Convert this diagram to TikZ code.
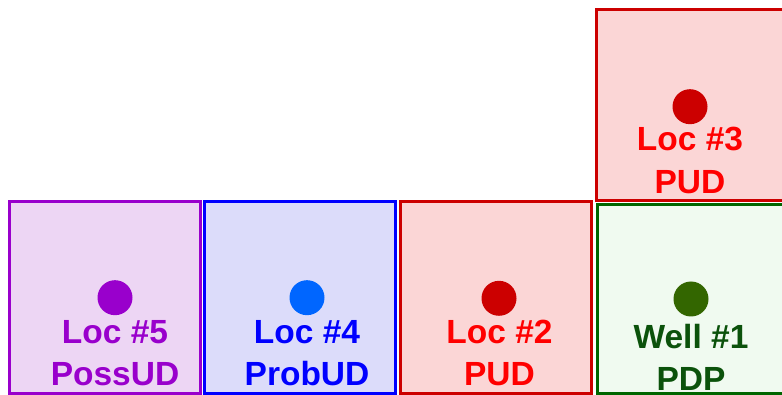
\documentclass[tikz,border=0pt]{standalone}
\usepackage{fontspec}
\setmainfont{Liberation Sans}
\definecolor{purp}{HTML}{9900CC}
\definecolor{purpfill}{HTML}{EDD6F4}
\definecolor{bluefill}{HTML}{DCDCFA}
\definecolor{dotblue}{HTML}{0066FF}
\definecolor{dred}{HTML}{CC0000}
\definecolor{redfill}{HTML}{FBD6D6}
\definecolor{dgreen}{HTML}{006600}
\definecolor{greenfill}{HTML}{F0FAF0}
\definecolor{wgreen}{HTML}{0B520B}
\definecolor{wdot}{HTML}{336600}
\tikzset{
  lease/.style={draw, line width=3pt, inner sep=0pt},
  welldot/.style={circle, inner sep=0pt, minimum size=35pt},
  lab/.style={anchor=base, align=center, inner sep=0pt, font=\fontsize{33.5}{42.5}\selectfont\bfseries}
}
\begin{document}
\begin{tikzpicture}[x=1pt,y=-1pt]
\useasboundingbox (0,0) rectangle (782,395);
\clip (0,0) rectangle (782,395);
% boxes
\draw[lease, draw=purp, fill=purpfill] (9.5,201.5) rectangle (200.5,393.5);
\draw[lease, draw=blue, fill=bluefill] (204.5,201.5) rectangle (395.5,393.5);
\draw[lease, draw=dred, fill=redfill] (400.5,201.5) rectangle (591.5,393.5);
\draw[lease, draw=dred, fill=redfill] (596.5,9.5) rectangle (790,200.5);
\draw[lease, draw=dgreen, fill=greenfill] (597.5,205) rectangle (790,393.5);
% dots
\node[welldot, fill=purp] (d5) at (115,297.7) {};
\node[welldot, fill=dotblue] (d4) at (307,297.7) {};
\node[welldot, fill=dred] (d2) at (499,298.3) {};
\node[welldot, fill=dred] (d3) at (690,106.7) {};
\node[welldot, fill=wdot] (d1) at (691,299) {};
% labels (anchor = baseline of the last line)
\node[lab, text=purp] (t5) at (115,385.5) {Loc \#5\\PossUD};
\node[lab, text=blue] (t4) at (307,385.5) {Loc \#4\\ProbUD};
\node[lab, text=red] (t2) at (499.5,385.5) {Loc \#2\\PUD};
\node[lab, text=red] (t3) at (690,193.5) {Loc \#3\\PUD};
\node[lab, text=wgreen] (t1) at (691,390.5) {Well \#1\\PDP};
\end{tikzpicture}
\end{document}
